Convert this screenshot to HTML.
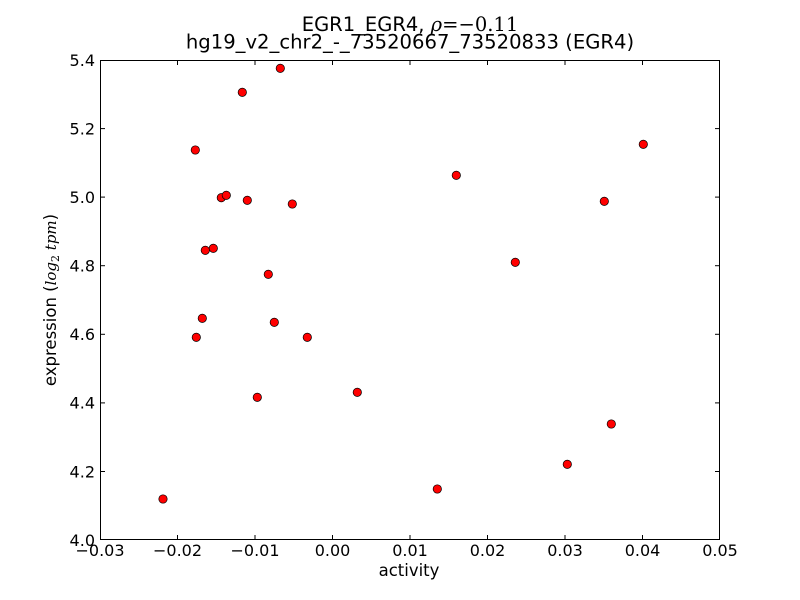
<!DOCTYPE html>
<html>
<head>
<meta charset="utf-8">
<style>
html,body{margin:0;padding:0;background:#fff;}
svg{display:block;}
text{font-family:"DejaVu Sans","Liberation Sans",sans-serif;fill:#000;}
.m{font-family:"DejaVu Serif","Liberation Serif",serif;}
</style>
</head>
<body>
<svg width="800" height="600" viewBox="0 0 800 600" xmlns="http://www.w3.org/2000/svg">
<rect x="0" y="0" width="800" height="600" fill="#fff"/>
<!-- title -->
<text x="410" y="31" text-anchor="middle" font-size="19.5">EGR1_EGR4, <tspan class="m" font-style="italic">ρ</tspan><tspan class="m">=−0.11</tspan></text>
<text x="410" y="48.5" text-anchor="middle" font-size="19.6">hg19_v2_chr2_-_73520667_73520833 (EGR4)</text>

<!-- axes frame -->
<rect x="100.5" y="60.5" width="619" height="479" fill="none" stroke="#000" stroke-width="1"/>

<!-- x ticks -->
<g stroke="#000" stroke-width="1">
<line x1="177.5" y1="540" x2="177.5" y2="535"/><line x1="177.5" y1="60" x2="177.5" y2="65"/>
<line x1="255" y1="540" x2="255" y2="535"/><line x1="255" y1="60" x2="255" y2="65"/>
<line x1="332.5" y1="540" x2="332.5" y2="535"/><line x1="332.5" y1="60" x2="332.5" y2="65"/>
<line x1="410" y1="540" x2="410" y2="535"/><line x1="410" y1="60" x2="410" y2="65"/>
<line x1="487.5" y1="540" x2="487.5" y2="535"/><line x1="487.5" y1="60" x2="487.5" y2="65"/>
<line x1="565" y1="540" x2="565" y2="535"/><line x1="565" y1="60" x2="565" y2="65"/>
<line x1="642.5" y1="540" x2="642.5" y2="535"/><line x1="642.5" y1="60" x2="642.5" y2="65"/>
<!-- y ticks -->
<line x1="100" y1="471.5" x2="105" y2="471.5"/><line x1="720" y1="471.5" x2="715" y2="471.5"/>
<line x1="100" y1="402.9" x2="105" y2="402.9"/><line x1="720" y1="402.9" x2="715" y2="402.9"/>
<line x1="100" y1="334.3" x2="105" y2="334.3"/><line x1="720" y1="334.3" x2="715" y2="334.3"/>
<line x1="100" y1="265.7" x2="105" y2="265.7"/><line x1="720" y1="265.7" x2="715" y2="265.7"/>
<line x1="100" y1="197.1" x2="105" y2="197.1"/><line x1="720" y1="197.1" x2="715" y2="197.1"/>
<line x1="100" y1="128.6" x2="105" y2="128.6"/><line x1="720" y1="128.6" x2="715" y2="128.6"/>
</g>

<!-- x tick labels -->
<g font-size="16" text-anchor="middle">
<text x="100" y="556">−0.03</text>
<text x="177.5" y="556">−0.02</text>
<text x="255" y="556">−0.01</text>
<text x="332.5" y="556">0.00</text>
<text x="410" y="556">0.01</text>
<text x="487.5" y="556">0.02</text>
<text x="565" y="556">0.03</text>
<text x="642.5" y="556">0.04</text>
<text x="720" y="556">0.05</text>
</g>
<!-- y tick labels -->
<g font-size="16" text-anchor="end">
<text x="95" y="545.8">4.0</text>
<text x="95" y="477.3">4.2</text>
<text x="95" y="408.7">4.4</text>
<text x="95" y="340.1">4.6</text>
<text x="95" y="271.5">4.8</text>
<text x="95" y="202.9">5.0</text>
<text x="95" y="134.4">5.2</text>
<text x="95" y="65.8">5.4</text>
</g>

<!-- axis labels -->
<text x="409" y="576" text-anchor="middle" font-size="16.5">activity</text>
<text transform="translate(56,300) rotate(-90)" text-anchor="middle" font-size="16.5">expression (<tspan class="m" font-style="italic" font-size="15">log</tspan><tspan class="m" font-size="11" dy="3">2</tspan><tspan class="m" font-style="italic" font-size="15" dy="-3"> tpm</tspan>)</text>

<!-- points -->
<g fill="#ff0000" stroke="#000" stroke-width="0.7">
<circle cx="163" cy="499" r="4.2"/>
<circle cx="196.3" cy="337.3" r="4.2"/>
<circle cx="195.3" cy="150" r="4.2"/>
<circle cx="202.3" cy="318.3" r="4.2"/>
<circle cx="205.3" cy="250.3" r="4.2"/>
<circle cx="213.3" cy="248.3" r="4.2"/>
<circle cx="221.3" cy="197.7" r="4.2"/>
<circle cx="226.3" cy="195.3" r="4.2"/>
<circle cx="242.3" cy="92.3" r="4.2"/>
<circle cx="247.3" cy="200.3" r="4.2"/>
<circle cx="257.3" cy="397.3" r="4.2"/>
<circle cx="268.3" cy="274.3" r="4.2"/>
<circle cx="274.3" cy="322.3" r="4.2"/>
<circle cx="280.3" cy="68.3" r="4.2"/>
<circle cx="292.3" cy="204" r="4.2"/>
<circle cx="307.3" cy="337.3" r="4.2"/>
<circle cx="357.3" cy="392.3" r="4.2"/>
<circle cx="437.3" cy="489" r="4.2"/>
<circle cx="456.3" cy="175.3" r="4.2"/>
<circle cx="515.3" cy="262.3" r="4.2"/>
<circle cx="567.3" cy="464.3" r="4.2"/>
<circle cx="604.3" cy="201.3" r="4.2"/>
<circle cx="611.3" cy="424" r="4.2"/>
<circle cx="643.3" cy="144.3" r="4.2"/>
</g>
</svg>
</body>
</html>
